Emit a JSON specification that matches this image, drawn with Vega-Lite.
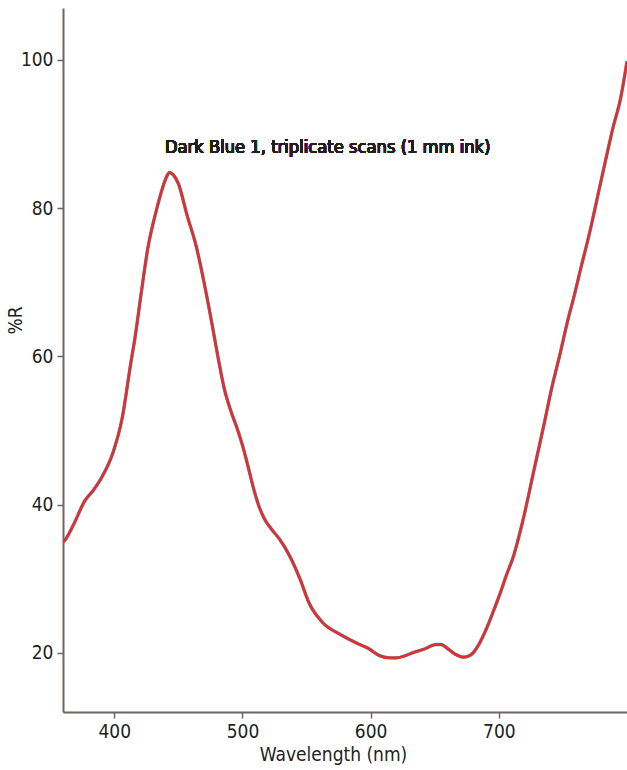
{
  "$schema": "https://vega.github.io/schema/vega-lite/v6.json",
  "width": 564,
  "height": 704,
  "autosize": {"type": "none"},
  "padding": {"left": 63, "top": 8, "right": 0, "bottom": 58},
  "background": "white",
  "config": {
    "view": {"stroke": null},
    "font": "DejaVu Sans Condensed, sans-serif",
    "axis": {
      "grid": false,
      "domainColor": "#6e6561",
      "domainWidth": 2,
      "tickColor": "#6e6561",
      "tickWidth": 1.5,
      "tickSize": 6,
      "labelFont": "DejaVu Sans Condensed, sans-serif",
      "labelFontSize": 19,
      "labelColor": "#231f20",
      "labelPadding": 4,
      "titleFont": "DejaVu Sans Condensed, sans-serif",
      "titleFontSize": 19,
      "titleFontWeight": "normal",
      "titleColor": "#231f20"
    }
  },
  "data": {
    "values": [
      {"wl": 360, "r": 34.9}, {"wl": 362, "r": 35.3}, {"wl": 368, "r": 37.2},
      {"wl": 377, "r": 40.5}, {"wl": 384, "r": 42.0}, {"wl": 390, "r": 43.6},
      {"wl": 399, "r": 47.0}, {"wl": 406, "r": 51.5}, {"wl": 413, "r": 59.2},
      {"wl": 416, "r": 62.3}, {"wl": 421, "r": 68.5}, {"wl": 426, "r": 74.4},
      {"wl": 433, "r": 79.8}, {"wl": 438, "r": 82.9}, {"wl": 441, "r": 84.3},
      {"wl": 443, "r": 84.8}, {"wl": 446, "r": 84.5}, {"wl": 450, "r": 83.3},
      {"wl": 457, "r": 78.9}, {"wl": 464, "r": 74.8}, {"wl": 470, "r": 70.0},
      {"wl": 476, "r": 64.6}, {"wl": 481, "r": 59.8}, {"wl": 486, "r": 55.5},
      {"wl": 491, "r": 52.6}, {"wl": 496, "r": 50.2}, {"wl": 500, "r": 48.0},
      {"wl": 504, "r": 45.4}, {"wl": 508, "r": 42.6}, {"wl": 513, "r": 39.7},
      {"wl": 517, "r": 38.1}, {"wl": 523, "r": 36.6}, {"wl": 529, "r": 35.3},
      {"wl": 537, "r": 33.0}, {"wl": 545, "r": 29.9}, {"wl": 552, "r": 26.7},
      {"wl": 563, "r": 24.0}, {"wl": 576, "r": 22.5}, {"wl": 589, "r": 21.3},
      {"wl": 598, "r": 20.6}, {"wl": 607, "r": 19.6}, {"wl": 615, "r": 19.3},
      {"wl": 620, "r": 19.3}, {"wl": 627, "r": 19.6}, {"wl": 633, "r": 20.0},
      {"wl": 642, "r": 20.5}, {"wl": 651, "r": 21.1}, {"wl": 655, "r": 21.1},
      {"wl": 659, "r": 20.7}, {"wl": 666, "r": 19.8}, {"wl": 672, "r": 19.4},
      {"wl": 677, "r": 19.6}, {"wl": 680, "r": 20.0}, {"wl": 685, "r": 21.3},
      {"wl": 690, "r": 23.1}, {"wl": 696, "r": 25.7}, {"wl": 701, "r": 28.0},
      {"wl": 706, "r": 30.5}, {"wl": 711, "r": 32.8}, {"wl": 719, "r": 38.0},
      {"wl": 727, "r": 44.3}, {"wl": 735, "r": 50.6}, {"wl": 741, "r": 55.5},
      {"wl": 748, "r": 60.5}, {"wl": 754, "r": 65.0}, {"wl": 759, "r": 68.3},
      {"wl": 763, "r": 71.2}, {"wl": 771, "r": 76.8}, {"wl": 778, "r": 82.3},
      {"wl": 784, "r": 87.0}, {"wl": 789, "r": 90.8}, {"wl": 795, "r": 94.8},
      {"wl": 800, "r": 99.8}
    ]
  },
  "encoding": {
    "x": {
      "field": "wl", "type": "quantitative",
      "scale": {"domain": [360, 800], "nice": false, "zero": false},
      "axis": {"values": [400, 500, 600, 700], "title": "Wavelength (nm)", "titleX": 270, "titleY": 48, "titleBaseline": "alphabetic"}
    },
    "y": {
      "field": "r", "type": "quantitative",
      "scale": {"domain": [12, 107], "nice": false, "zero": false},
      "axis": {"values": [20, 40, 60, 80, 100], "title": "%R", "titleX": -38, "titleY": 312, "titleAlign": "center", "titleBaseline": "bottom"}
    }
  },
  "layer": [
    {"mark": {"type": "line", "color": "#2aa7df", "strokeWidth": 3.4, "interpolate": "monotone", "clip": true}},
    {"mark": {"type": "line", "color": "#ee2a24", "strokeWidth": 2.7, "interpolate": "monotone", "clip": true}},
    {
      "mark": {"type": "text", "text": "Dark Blue 1, triplicate scans (1 mm ink)", "fontSize": 18.2, "color": "#231f20", "align": "center", "baseline": "alphabetic", "font": "DejaVu Sans Condensed, sans-serif"},
      "encoding": {
        "x": {"datum": 566.5, "type": "quantitative"},
        "y": {"datum": 87.5, "type": "quantitative"}
      }
    }
  ]
}
